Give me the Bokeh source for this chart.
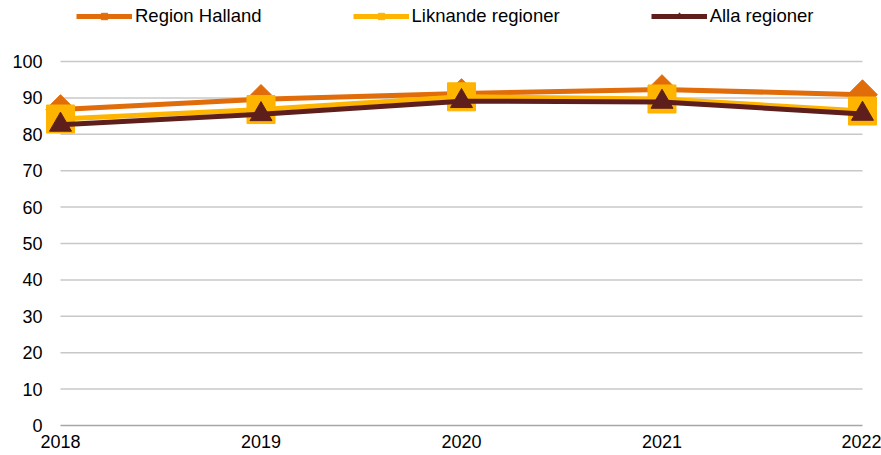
import math
from bokeh.plotting import figure
from bokeh.models import Range1d, Legend, LegendItem, FixedTicker
from bokeh.embed import file_html
from bokeh.resources import INLINE

years = [2018, 2019, 2020, 2021, 2022]
region_halland = [86.8, 89.6, 91.2, 92.3, 90.9]
liknande_regioner = [84.2, 86.8, 90.3, 89.7, 86.4]
alla_regioner = [82.6, 85.5, 89.1, 88.9, 85.6]
y_ticks = [0, 10, 20, 30, 40, 50, 60, 70, 80, 90, 100]

FONT = "Liberation Sans"

p = figure(width=881, height=455, output_backend="svg", toolbar_location=None,
           x_range=Range1d(2017.9252, 2022.0898), y_range=Range1d(-1.099, 116.76),
           min_border_left=45, min_border_right=1, min_border_top=0, min_border_bottom=26)
p.outline_line_color = None
p.background_fill_color = "white"
p.border_fill_color = "white"

p.xgrid.grid_line_color = None
p.ygrid.grid_line_color = None
p.yaxis.ticker = FixedTicker(ticks=y_ticks)
p.xaxis.ticker = FixedTicker(ticks=years)

for ax in (p.xaxis, p.yaxis):
    ax.major_tick_line_color = None
    ax.minor_tick_line_color = None
    ax.major_tick_out = 0
    ax.major_tick_in = 0
    ax.minor_tick_out = 0
    ax.minor_tick_in = 0
    ax.axis_line_color = None
    ax.major_label_text_font = FONT
    ax.major_label_text_font_size = "18px"
    ax.major_label_text_color = "#000000"
p.yaxis.major_label_standoff = 3
p.xaxis.major_label_standoff = 5

# horizontal gridlines spanning the year range only
x0 = [min(years)] * len(y_ticks)
x1 = [max(years)] * len(y_ticks)
grid_colors = ["#A6A6A6" if t == 0 else "#C8C8C8" for t in y_ticks]
p.segment(x0=x0, y0=y_ticks, x1=x1, y1=y_ticks, line_color=grid_colors, line_width=1.5)

# (name, values, colour, marker, size, angle)
series = [
    ("Region Halland", region_halland, "#E06C0A", "square", 21, math.pi / 4),
    ("Liknande regioner", liknande_regioner, "#FFB400", "square", 28, 0.0),
    ("Alla regioner", alla_regioner, "#5E1F1C", "triangle", 22, 0.0),
]

items = []
for name, vals, color, marker, size, ang in series:
    r1 = p.line(years, vals, line_color=color, line_width=5)
    r2 = p.scatter(years, vals, marker=marker, size=size, angle=ang,
                   fill_color=color, line_color=color)
    items.append(LegendItem(label=name, renderers=[r1, r2]))

legend = Legend(items=items, orientation="horizontal", location=(31, 402),
                label_text_font=FONT, label_text_font_size="18.5px", label_text_color="#000000",
                glyph_width=56, glyph_height=16, label_height=16, label_standoff=3, spacing=91,
                padding=0, margin=0, border_line_color=None, background_fill_alpha=0)
p.add_layout(legend, "center")

open("out.html", "w").write(file_html(p, INLINE))
